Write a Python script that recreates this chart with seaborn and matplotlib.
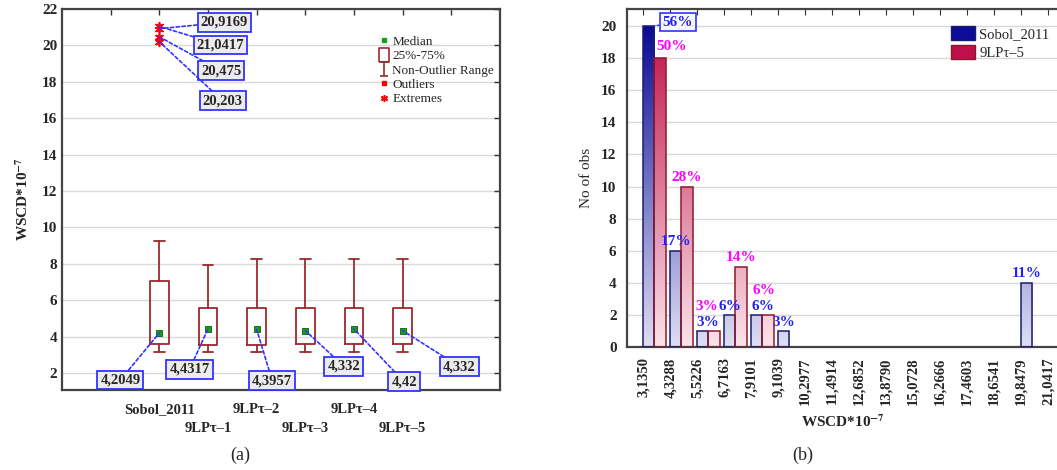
import numpy as np
import pandas as pd
import matplotlib
matplotlib.use('Agg')
import matplotlib.pyplot as plt
from matplotlib.colors import LinearSegmentedColormap
from matplotlib.lines import Line2D
from matplotlib.patches import Patch
from matplotlib.path import Path
import seaborn as sns

# datos (a): resumen de las cajas por generador
generadores = ['Sobol_2011', '9LPτ–1', '9LPτ–2', '9LPτ–3', '9LPτ–4', '9LPτ–5']
medianas = [4.2049, 4.4317, 4.3957, 4.332, 4.42, 4.332]
etiquetas_med = ['4,2049', '4,4317', '4,3957', '4,332', '4,42', '4,332']
q1 = [3.60, 3.55, 3.55, 3.60, 3.60, 3.60]
q3 = [7.07, 5.60, 5.55, 5.60, 5.55, 5.55]
bigote_min = [3.15, 3.15, 3.15, 3.15, 3.15, 3.15]
bigote_max = [9.27, 7.95, 8.25, 8.25, 8.25, 8.25]
extremos = [21.0417, 20.9169, 20.475, 20.203]
etiquetas_ext = ['21,0417', '20,9169', '20,475', '20,203']

# datos (b): histograma
bordes = [3.1350, 4.3288, 5.5226, 6.7163, 7.9101, 9.1039, 10.2977, 11.4914,
          12.6852, 13.8790, 15.0728, 16.2666, 17.4603, 18.6541, 19.8479, 21.0417]
etiq_bordes = ['3,1350', '4,3288', '5,5226', '6,7163', '7,9101', '9,1039', '10,2977', '11,4914',
               '12,6852', '13,8790', '15,0728', '16,2666', '17,4603', '18,6541', '19,8479', '21,0417']
conteo_sobol = [20, 6, 1, 2, 2, 1, 0, 0, 0, 0, 0, 0, 0, 0, 4]
conteo_lp5 = [18, 10, 1, 5, 2, 0, 0, 0, 0, 0, 0, 0, 0, 0, 0]
series = ['Sobol_2011', '9LPτ–5']

# posiciones de las etiquetas (solo layout)
pos_cajas = [2, 3, 4, 5, 6, 7]
lbl_med_x = [1.2, 2.62, 4.32, 5.79, 7.03, 8.17]
lbl_med_y = [1.62, 2.2, 1.58, 2.38, 1.52, 2.35]
lbl_ext_x = [3.26, 3.33, 3.27, 3.30]
lbl_ext_y = [20.02, 21.27, 18.6, 16.96]

AZUL = '#0c0c98'
ROJO = '#c0104c'
CAJA = '#9b2a2d'
LINEA = '#3333ff'

sns.set_style('white')
plt.rcParams['font.family'] = ['Liberation Serif', 'DejaVu Serif']
plt.rcParams['mathtext.fontset'] = 'stix'

W, H = 1057, 470
fig = plt.figure(figsize=(W / 100, H / 100), dpi=100)

# ---------------- (a) boxplot ----------------
ax1 = fig.add_axes([62 / W, (H - 390) / H, 438 / W, 381 / H])
stats = []
for i in range(len(generadores)):
    stats.append({'med': medianas[i], 'q1': q1[i], 'q3': q3[i],
                  'whislo': bigote_min[i], 'whishi': bigote_max[i], 'fliers': []})
ax1.bxp(stats, positions=pos_cajas, widths=0.39, capwidths=0.22, showfliers=False,
        boxprops=dict(color=CAJA, lw=1.3), whiskerprops=dict(color=CAJA, lw=1.3),
        capprops=dict(color=CAJA, lw=1.3), medianprops=dict(lw=0))
sns.scatterplot(x=pos_cajas, y=medianas, marker='s', color='#16a016', edgecolor='#0b5c0b',
                s=24, linewidth=0.6, zorder=5, ax=ax1)
sns.scatterplot(x=[2] * len(extremos), y=extremos, marker=(6, 2, 0), color='red', edgecolor='red',
                s=30, linewidth=1.2, zorder=5, ax=ax1)

caja_lbl = dict(boxstyle='square,pad=0.2', fc='#ececec', ec=LINEA, lw=1.3)
flecha = dict(arrowstyle='-', color=LINEA, lw=1.2, ls=(0, (2, 1.5)), shrinkA=0, shrinkB=0)
for i in range(len(medianas)):
    ax1.annotate(etiquetas_med[i], xy=(pos_cajas[i], medianas[i]), xytext=(lbl_med_x[i], lbl_med_y[i]),
                 ha='center', va='center', fontsize=10.5, fontweight='bold', bbox=caja_lbl,
                 arrowprops=flecha, zorder=6)
for i in range(len(extremos)):
    ax1.annotate(etiquetas_ext[i], xy=(2, extremos[i]), xytext=(lbl_ext_x[i], lbl_ext_y[i]),
                 ha='center', va='center', fontsize=10.5, fontweight='bold', bbox=caja_lbl,
                 arrowprops=flecha, zorder=6)

ax1.set_xlim(0, 9)
ax1.set_ylim(1.07, 22)
ax1.set_yticks(range(2, 23, 2))
# etiquetas alternadas en dos filas: fila 1 como ticks mayores, fila 2 como menores
ax1.set_xticks([1, 2, 4, 6, 8])
ax1.set_xticklabels(['', generadores[0], generadores[2], generadores[4], ''],
                    fontweight='bold', fontsize=10.5)
ax1.set_xticks([3, 5, 7], minor=True)
ax1.set_xticklabels([generadores[1], generadores[3], generadores[5]], minor=True,
                    fontweight='bold', fontsize=10.5)
for t in ax1.get_yticklabels():
    t.set_fontweight('bold')
    t.set_fontsize(11)
ax1.tick_params(which='both', direction='in', length=4, top=True, right=True, width=1, color='#333333')
ax1.tick_params(axis='x', which='major', pad=9.5)
ax1.tick_params(axis='x', which='minor', pad=23)
ax1.yaxis.grid(True, color='#d9d9d9', lw=1)
ax1.set_axisbelow(True)
for s in ax1.spines.values():
    s.set_color('#444444')
    s.set_linewidth(1.6)
ax1.set_ylabel(r'WSCD*10$^{\mathbf{-7}}$', fontweight='bold', fontsize=11, labelpad=8)

caja_path = Path([(-0.7, -1), (0.7, -1), (0.7, 1), (-0.7, 1), (-0.7, -1)])
bigote_path = Path([(-0.6, 1), (0.6, 1), (0, 1), (0, -1), (-0.6, -1), (0.6, -1)],
                   [Path.MOVETO, Path.LINETO, Path.MOVETO, Path.LINETO, Path.MOVETO, Path.LINETO])
manejadores = [
    Line2D([], [], ls='none', marker='s', mfc='#16a016', mec='#16a016', ms=3.5, label='Median'),
    Line2D([], [], ls='none', marker=caja_path, mfc='none', mec=CAJA, mew=1.2, ms=10, label='25%-75%'),
    Line2D([], [], ls='none', marker=bigote_path, mfc='none', mec=CAJA, mew=1.2, ms=10, label='Non-Outlier Range'),
    Line2D([], [], ls='none', marker='s', mfc='red', mec='red', ms=3.5, label='Outliers'),
    Line2D([], [], ls='none', marker=(6, 2, 0), mfc='red', mec='red', mew=1.1, ms=5, label='Extremes'),
]
ax1.legend(handles=manejadores, loc='upper left', bbox_to_anchor=(371 / W, 1 - 29 / H),
           bbox_transform=fig.transFigure, frameon=False, fontsize=9.5, handlelength=0.9,
           handletextpad=0.2, labelspacing=0.16, borderpad=0)

# ---------------- (b) histograma ----------------
ax2 = fig.add_axes([627 / W, (H - 347) / H, 431 / W, 338 / H])
bw = bordes[1] - bordes[0]
filas = []
for i in range(len(conteo_sobol)):
    filas.append({'pos': bordes[i] + 0.415 * bw, 'n': conteo_sobol[i], 'serie': series[0]})
    filas.append({'pos': bordes[i] + 0.415 * bw, 'n': conteo_lp5[i], 'serie': series[1]})
df = pd.DataFrame(filas)
sns.barplot(data=df, x='pos', y='n', hue='serie', hue_order=series, palette=[AZUL, ROJO],
            native_scale=True, width=0.83, dodge=True, saturation=1, legend=False, ax=ax2)

cmap_az = LinearSegmentedColormap.from_list('az', ['#dedef3', '#0a0a96'])
cmap_ro = LinearSegmentedColormap.from_list('ro', ['#fbe3ea', '#c0104c'])
grad = np.linspace(0, 1, 256).reshape(-1, 1)
for p in list(ax2.patches):
    h = p.get_height()
    if h <= 0:
        p.set_visible(False)
        continue
    es_azul = np.allclose(p.get_facecolor()[:3], matplotlib.colors.to_rgb(AZUL), atol=0.02)
    p.set_facecolor('none')
    p.set_edgecolor('#1c1c6c' if es_azul else '#8c1a2c')
    p.set_linewidth(1.1)
    p.set_zorder(3)
    x0 = p.get_x()
    im = ax2.imshow(grad, extent=[x0, x0 + p.get_width(), 0, 20], origin='lower', aspect='auto',
                    cmap=cmap_az if es_azul else cmap_ro, zorder=2)
    im.set_clip_path(p)

# etiquetas de porcentaje
total_s = sum(conteo_sobol)
total_r = sum(conteo_lp5)
ajuste_az = {2: (0.2, 0), 4: (0.27, 0)}
ajuste_ro = {0: (0.5, 0.16), 2: (-0.32, 0.95), 4: (-0.18, 1.0)}
for i in range(len(conteo_sobol)):
    cx = bordes[i] + 0.2075 * bw
    if conteo_sobol[i] > 0 and i != 0:
        dx, dy = ajuste_az.get(i, (0, 0))
        ax2.text(cx + dx, conteo_sobol[i] + 0.55 + dy, f'{round(100 * conteo_sobol[i] / total_s)}%',
                 color='#2323ee', fontweight='bold', fontsize=11, ha='center', va='center', zorder=6)
    cx = bordes[i] + 0.6225 * bw
    if conteo_lp5[i] > 0:
        dx, dy = ajuste_ro.get(i, (0, 0))
        ax2.text(cx + dx, conteo_lp5[i] + 0.55 + dy, f'{round(100 * conteo_lp5[i] / total_r)}%',
                 color='#ff00ff', fontweight='bold', fontsize=11, ha='center', va='center', zorder=6)
ax2.annotate(f'{round(100 * conteo_sobol[0] / total_s)}%', xy=(bordes[0] + 0.38 * bw, 20),
             xytext=(4.669, 20.25), color='#2323ee', fontweight='bold', fontsize=11,
             ha='center', va='center', zorder=6,
             bbox=dict(boxstyle='square,pad=0.15', fc='#f6f6ff', ec=LINEA, lw=1.2),
             arrowprops=dict(arrowstyle='-', color=LINEA, lw=1, ls=(0, (2, 1.5)), shrinkA=0, shrinkB=0))

ax2.set_xlim(2.414, 2.414 + 431 / 26.98 * bw)
ax2.set_ylim(0, 21.06)
ax2.set_xticks(bordes)
ax2.set_xticklabels(etiq_bordes, rotation=90, fontweight='bold', fontsize=10.5)
ax2.set_yticks(range(0, 21, 2))
for t in ax2.get_yticklabels():
    t.set_fontweight('bold')
    t.set_fontsize(11)
ax2.tick_params(direction='out', length=4, width=1, color='#333333')
top = ax2.secondary_xaxis('top')
top.set_xticks(bordes)
top.tick_params(direction='in', length=4, labeltop=False, color='#333333')
top.spines['top'].set_visible(False)
ax2.yaxis.grid(True, color='#d9d9d9', lw=1)
ax2.set_axisbelow(True)
for s in ax2.spines.values():
    s.set_color('#444444')
    s.set_linewidth(1.6)
ax2.spines['right'].set_visible(False)
ax2.set_xlabel(r'WSCD*10$^{\mathbf{-7}}$', fontweight='bold', fontsize=11, labelpad=6)
ax2.set_ylabel('No of obs', fontsize=11, labelpad=6)

ley = [Patch(fc=AZUL, ec='#1c1c6c', label=series[0]), Patch(fc=ROJO, ec='#8c1a2c', label=series[1])]
ax2.legend(handles=ley, loc='upper left', bbox_to_anchor=(944 / W, 1 - 19 / H),
           bbox_transform=fig.transFigure, frameon=False, fontsize=10.5, handlelength=1.6,
           handleheight=1.1, handletextpad=0.3, labelspacing=0.25, borderpad=0)

fig.text(240 / W, 1 - 455 / H, '(a)', ha='center', va='center', fontsize=13)
fig.text(803 / W, 1 - 455 / H, '(b)', ha='center', va='center', fontsize=13)

fig.savefig('out.png', dpi=100)
